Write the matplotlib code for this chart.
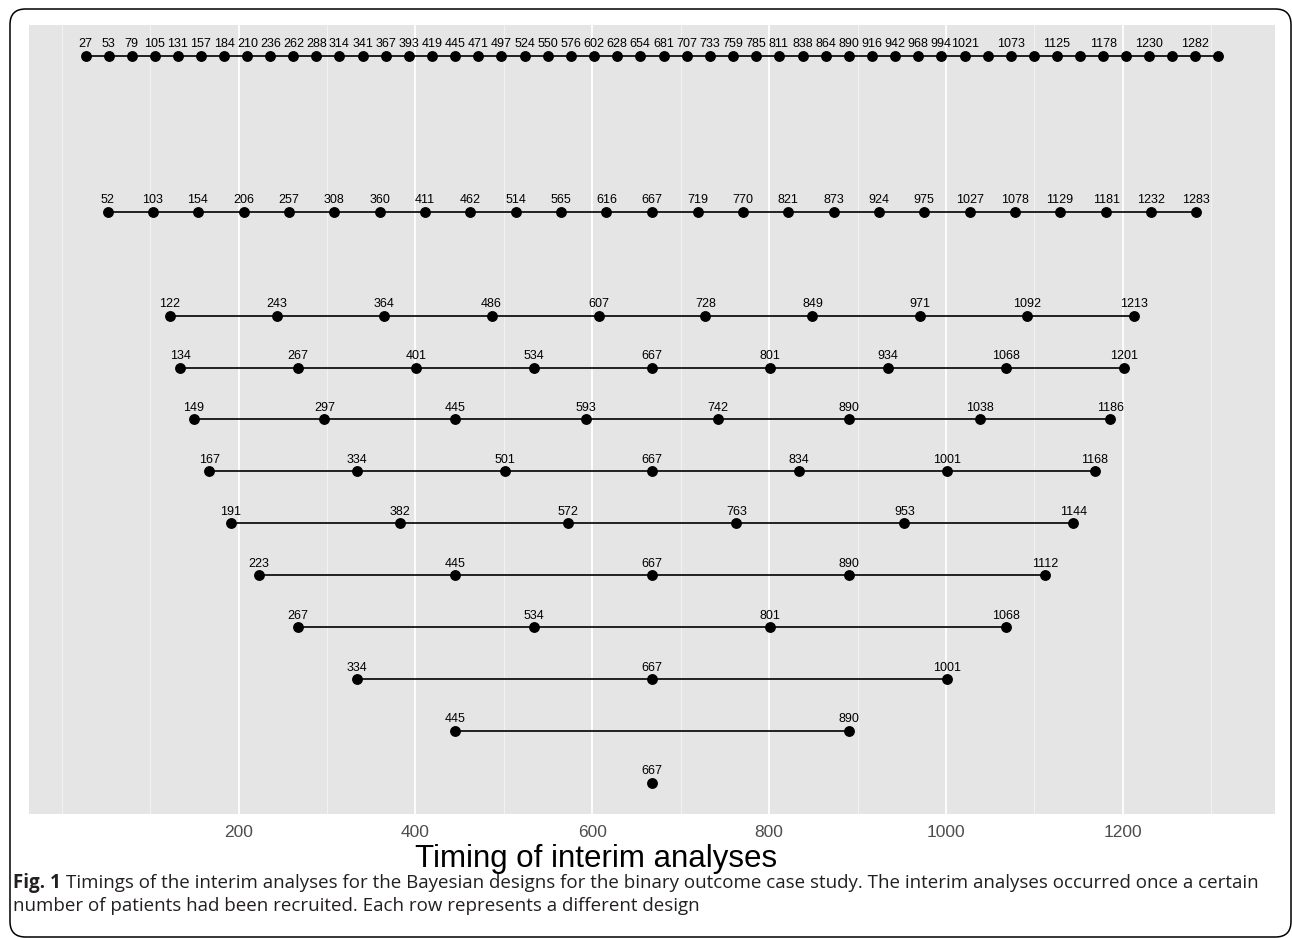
import matplotlib
matplotlib.use("Agg")
import matplotlib.pyplot as plt
from matplotlib.patches import FancyBboxPatch

# number of patients recruited at each interim analysis, one list per design
design_rows = [15, 12, 10, 9, 8, 7, 6, 5, 4, 3, 2, 1]
timings = [
    [27, 53, 79, 105, 131, 157, 184, 210, 236, 262, 288, 314, 341, 367, 393, 419, 445,
     471, 497, 524, 550, 576, 602, 628, 654, 681, 707, 733, 759, 785, 811, 838, 864,
     890, 916, 942, 968, 994, 1021, 1047, 1073, 1099, 1125, 1151, 1178, 1204, 1230,
     1256, 1282, 1308],
    [52, 103, 154, 206, 257, 308, 360, 411, 462, 514, 565, 616, 667, 719, 770, 821,
     873, 924, 975, 1027, 1078, 1129, 1181, 1232, 1283],
    [122, 243, 364, 486, 607, 728, 849, 971, 1092, 1213],
    [134, 267, 401, 534, 667, 801, 934, 1068, 1201],
    [149, 297, 445, 593, 742, 890, 1038, 1186],
    [167, 334, 501, 667, 834, 1001, 1168],
    [191, 382, 572, 763, 953, 1144],
    [223, 445, 667, 890, 1112],
    [267, 534, 801, 1068],
    [334, 667, 1001],
    [445, 890],
    [667],
]
# labels dropped in the top row because they overlap neighbours
unlabelled_top = [1047, 1099, 1151, 1204, 1256, 1308]

major_ticks = [200, 400, 600, 800, 1000, 1200]
minor_grid = [0, 100, 300, 500, 700, 900, 1100, 1300]

W, H = 1292, 938
fig = plt.figure(figsize=(W / 100, H / 100), dpi=100)
ax = fig.add_axes([29 / W, 1 - 814 / H, (1275 - 29) / W, (814 - 25) / H])
ax.set_facecolor("#E5E5E5")

for x in minor_grid:
    ax.axvline(x, color="#F2F2F2", lw=0.8, zorder=0)
for x in major_ticks:
    ax.axvline(x, color="white", lw=1.3, zorder=0)

for y, xs in zip(design_rows, timings):
    ax.plot(xs, [y] * len(xs), "-", color="black", lw=1.2, zorder=2)
    ax.plot(xs, [y] * len(xs), "o", color="black", ms=6.8, zorder=3)
    for x in xs:
        if y == design_rows[0] and x in unlabelled_top:
            continue
        ax.annotate(str(x), (x, y), xytext=(0, 6.3), textcoords="offset points",
                    ha="center", va="baseline", fontsize=9,
                    family="Liberation Sans", color="black")

ax.set_xlim(-37.05, 1372.05)
ax.set_ylim(0.407, 15.593)
ax.set_xticks(major_ticks)
ax.set_xticklabels([str(t) for t in major_ticks], family="Liberation Sans",
                   fontsize=12.5, color="#4D4D4D")
ax.tick_params(axis="x", length=0, pad=8)
ax.set_yticks([])
for s in ax.spines.values():
    s.set_visible(False)

fig.text(596 / W, 1 - 867 / H, "Timing of interim analyses", family="Liberation Sans",
         fontsize=22.5, color="black", ha="center", va="baseline")

# caption
cap_color = "#231F20"
cap_size = 13.5
r = fig.canvas.get_renderer()
t = fig.text(13 / W, 1 - 888 / H, "Fig. 1", family="Open Sans", weight="bold",
             fontsize=cap_size, color=cap_color, va="baseline")
bb = t.get_window_extent(renderer=r)
fig.text((bb.x1 + 5) / W, 1 - 888 / H,
         "Timings of the interim analyses for the Bayesian designs for the binary outcome "
         "case study. The interim analyses occurred once a certain",
         family="Open Sans", fontsize=cap_size, color=cap_color, va="baseline")
fig.text(13 / W, 1 - 911 / H,
         "number of patients had been recruited. Each row represents a different design",
         family="Open Sans", fontsize=cap_size, color=cap_color, va="baseline")

# rounded frame around the figure
frame = FancyBboxPatch((10 / W, 1 - 937 / H), (1291 - 10) / W, (937 - 9) / H,
                       boxstyle="round,pad=0,rounding_size=0.012",
                       transform=fig.transFigure, fill=False, ec="black", lw=1.1,
                       mutation_aspect=W / H)
fig.patches.append(frame)

fig.savefig("out.png", dpi=100)
